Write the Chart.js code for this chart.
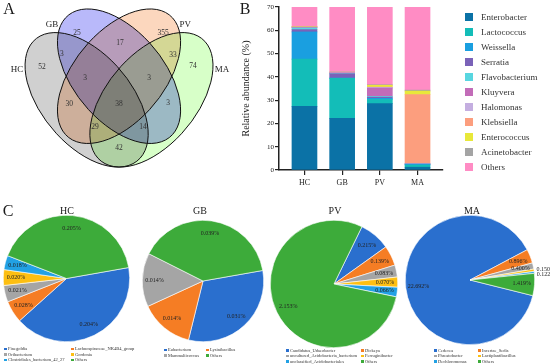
<!DOCTYPE html>
<html>
<head>
<meta charset="utf-8">
<script src="https://cdn.jsdelivr.net/npm/chart.js@4.4.1/dist/chart.umd.min.js"></script>
<style>
  body { margin: 0; background: #fff; }
  #fig { position: relative; width: 550px; height: 364px; overflow: hidden; font-family: "Liberation Serif", "Times New Roman", serif; color: #1a1a1a; }
  #fig canvas { position: absolute; }
  .txt { position: absolute; transform: translate(-50%, -50%); white-space: nowrap; line-height: 1; }
  .bl { position: absolute; left: 465px; font-size: 9px; line-height: 10px; white-space: nowrap; color: #333; }
  .bl i { position: absolute; left: 0; top: 1px; width: 8px; height: 8px; }
  .bl span { position: absolute; left: 16px; top: 0; }
  .pl { position: absolute; font-size: 4.5px; line-height: 5px; white-space: nowrap; color: #333; }
  .pl i { display: inline-block; width: 2.5px; height: 2.5px; margin-right: 1.5px; vertical-align: middle; }
</style>
</head>
<body>
<div id="fig">
  <canvas id="venn" width="240" height="185" style="left:0;top:0"></canvas>
  <canvas id="bars" width="255" height="195" style="left:200px;top:0"></canvas>
  <canvas id="pieHC" width="167" height="167" style="left:-17px;top:195px"></canvas>
  <canvas id="pieGB" width="162" height="162" style="left:122px;top:200px"></canvas>
  <canvas id="piePV" width="168" height="168" style="left:250px;top:200px"></canvas>
  <canvas id="pieMA" width="170" height="170" style="left:385px;top:195px"></canvas>
</div>
<script>
// ---- panel A: shared OTUs ----
const vennSets = ["HC", "GB", "PV", "MA"];
const vennRegions = ["HC", "GB", "PV", "MA", "HC&GB", "HC&PV", "HC&MA", "GB&PV", "GB&MA", "PV&MA",
  "HC&GB&PV", "HC&GB&MA", "HC&PV&MA", "GB&PV&MA", "HC&GB&PV&MA"];
const vennCounts = [52, 25, 355, 74, 3, 30, 42, 17, 3, 33, 3, 14, 29, 3, 38];

// ---- panel B: relative abundance (%) ----
const groups = ["HC", "GB", "PV", "MA"];
const genera = ["Enterobacter", "Lactococcus", "Weissella", "Serratia", "Flavobacterium", "Kluyvera",
  "Halomonas", "Klebsiella", "Enterococcus", "Acinetobacter", "Others"];
const enterobacter = [27.3, 22.2, 28.5, 1.2];
const lactococcus = [20.3, 17.2, 1.8, 0.9];
const weissella = [11.7, 0.1, 0.5, 0.3];
const serratia = [1.0, 1.8, 0.5, 0.1];
const flavobacterium = [0.7, 0.1, 0.3, 0.1];
const kluyvera = [0.2, 0.3, 3.6, 0.1];
const halomonas = [0.1, 0.1, 0.3, 0.1];
const klebsiella = [0.1, 0.1, 0.1, 29.6];
const enterococcus = [0.1, 0.1, 0.8, 1.5];
const acinetobacter = [0.1, 0.1, 0.2, 0.4];
const others = [38.4, 57.9, 63.6, 66.1];

// ---- panel C: top taxa per group (%) ----
const hcTaxa = ["Finegoldia", "Lachnospiraceae_NK4B4_group", "Oribacterium", "Gordonia", "Clostridiales_bacterium_42_27", "Others"];
const hcValues = [0.204, 0.028, 0.021, 0.020, 0.018, 0.205];
const gbTaxa = ["Eubacterium", "Lysinibacillus", "Mammaliicoccus", "Others"];
const gbValues = [0.031, 0.014, 0.014, 0.039];
const pvTaxa = ["Candidatus_Udaeobacter", "Dickeya", "uncultured_Acidobacteria_bacterium", "Ferruginibacter", "unclassified_Acidobacteriales", "Others"];
const pvValues = [0.215, 0.139, 0.083, 0.070, 0.066, 2.153];
const maTaxa = ["Cedecea", "Incertae_Sedis", "Phreatobacter", "Lactiplantibacillus", "Dechloromonas", "Others"];
const maValues = [22.692, 0.896, 0.400, 0.150, 0.122, 1.419];

// styles
const serif = "'Liberation Serif', 'Times New Roman', serif";
const generaColors = ["#0b72a6", "#13bdb8", "#1a9fe0", "#7a62b8", "#58d6e0", "#c26cb8",
  "#c4aee0", "#fc9e7e", "#e8e83a", "#a4a4a4", "#ff8cc4"];
const pieColors = ["#2a6fce", "#f57d24", "#a5a5a5", "#fdbf12", "#22a1e4", "#3dab3a"];

// venn geometry, in chart units (tints are multiplied where they overlap)
const vennShapes = [
  { cx: 0.35, cy: 0.47, rx: 0.35, ry: 0.2, rot: 135, fill: "rgb(208,208,208)" },
  { cx: 0.50, cy: 0.57, rx: 0.35, ry: 0.2, rot: 135, fill: "rgb(185,185,250)" },
  { cx: 0.50, cy: 0.57, rx: 0.35, ry: 0.2, rot: 45, fill: "rgb(252,215,190)" },
  { cx: 0.65, cy: 0.47, rx: 0.35, ry: 0.2, rot: 45, fill: "rgb(215,255,200)" }
];
const vennSetPos = [[0.028, 0.597], [0.19, 0.787], [0.806, 0.787], [0.977, 0.597]];
const vennCountPos = [[0.144, 0.609], [0.306, 0.753], [0.704, 0.753], [0.843, 0.613],
  [0.236, 0.664], [0.269, 0.452], [0.5, 0.266], [0.505, 0.711], [0.727, 0.457], [0.75, 0.66],
  [0.343, 0.563], [0.611, 0.355], [0.389, 0.355], [0.639, 0.563], [0.5, 0.452]];

const fig = document.getElementById("fig");

function addText(text, x, y, size) {
  const d = document.createElement("div");
  d.className = "txt";
  d.textContent = text;
  d.style.left = x + "px";
  d.style.top = y + "px";
  d.style.fontSize = size + "px";
  fig.appendChild(d);
}

// ---------- A ----------
const vennPlugin = {
  id: "venn",
  beforeDatasetsDraw(chart) {
    const { ctx, scales: { x, y } } = chart;
    const sx = x.getPixelForValue(1) - x.getPixelForValue(0);
    const sy = y.getPixelForValue(0) - y.getPixelForValue(1);
    const path = s => {
      ctx.save();
      ctx.translate(x.getPixelForValue(s.cx), y.getPixelForValue(s.cy));
      ctx.scale(sx, -sy);
      ctx.rotate(s.rot * Math.PI / 180);
      ctx.beginPath();
      ctx.ellipse(0, 0, s.rx, s.ry, 0, 0, Math.PI * 2);
      ctx.restore();
    };
    ctx.save();
    ctx.globalCompositeOperation = "multiply";
    vennShapes.forEach(s => { path(s); ctx.fillStyle = s.fill; ctx.fill(); });
    ctx.globalCompositeOperation = "source-over";
    ctx.strokeStyle = "#111";
    ctx.lineWidth = 1;
    vennShapes.forEach(s => { path(s); ctx.stroke(); });

    ctx.textAlign = "center";
    ctx.textBaseline = "middle";
    ctx.fillStyle = "#333";
    ctx.font = "7.5px " + serif;
    vennCounts.forEach((c, i) => {
      ctx.fillText(c, x.getPixelForValue(vennCountPos[i][0]), y.getPixelForValue(vennCountPos[i][1]));
    });
    ctx.fillStyle = "#222";
    ctx.font = "9px " + serif;
    vennSets.forEach((s, i) => {
      ctx.fillText(s, x.getPixelForValue(vennSetPos[i][0]), y.getPixelForValue(vennSetPos[i][1]));
    });
    ctx.restore();
  }
};

new Chart(document.getElementById("venn"), {
  type: "scatter",
  data: { datasets: [{ data: [] }] },
  options: {
    responsive: false,
    animation: false,
    layout: { padding: 0 },
    plugins: { legend: { display: false }, tooltip: { enabled: false } },
    scales: {
      x: { type: "linear", display: false, min: -0.051, max: 1.060 },
      y: { type: "linear", display: false, min: 0.109, max: 0.893 }
    }
  },
  plugins: [vennPlugin]
});

// ---------- B ----------
const abundance = [enterobacter, lactococcus, weissella, serratia, flavobacterium, kluyvera,
  halomonas, klebsiella, enterococcus, acinetobacter, others];

new Chart(document.getElementById("bars"), {
  type: "bar",
  data: {
    datasets: genera.map((g, k) => ({
      label: g,
      data: groups.map((grp, i) => ({ x: i + 1, y: abundance[k][i] })),
      backgroundColor: generaColors[k],
      borderWidth: 0,
      barThickness: 25,
      clip: 0
    }))
  },
  options: {
    responsive: false,
    animation: false,
    layout: { padding: { left: 36, right: 12, top: 7, bottom: 0 } },
    plugins: { legend: { display: false }, tooltip: { enabled: false } },
    scales: {
      x: {
        type: "linear", stacked: true, offset: false,
        min: 0.324, max: 4.676,
        ticks: {
          stepSize: 1, includeBounds: false, padding: 3,
          callback: v => groups[v - 1] ?? "",
          font: { family: serif, size: 8 }, color: "#222"
        },
        grid: { offset: false, drawOnChartArea: false, drawTicks: true, tickLength: 5, color: "#222", lineWidth: 1.2 },
        border: { color: "#222", width: 1.5 },
        afterFit: s => { s.height = 25; }
      },
      y: {
        stacked: true, min: 0, max: 70,
        ticks: { stepSize: 10, padding: 1, font: { family: serif, size: 7 }, color: "#222" },
        title: { display: true, text: "Relative abundance (%)", font: { family: serif, size: 10 }, color: "#222", padding: { top: 4, bottom: 0 } },
        grid: { drawOnChartArea: false, drawTicks: true, tickLength: 4, color: "#222", lineWidth: 1.2 },
        border: { color: "#222", width: 1.5 },
        afterFit: s => { s.width = 43; }
      }
    }
  }
});

genera.forEach((g, i) => {
  const item = document.createElement("div");
  item.className = "bl";
  item.style.top = (12 + i * 15) + "px";
  item.innerHTML = `<i style="background:${generaColors[i]}"></i><span>${g}</span>`;
  fig.appendChild(item);
});

// ---------- C ----------
const pieLabels = {
  id: "pieLabels",
  afterDatasetsDraw(chart) {
    const ctx = chart.ctx;
    const vals = chart.data.datasets[0].data;
    let lastOut = -Infinity;
    ctx.save();
    ctx.font = "6px " + serif;
    ctx.fillStyle = "#222";
    ctx.textBaseline = "middle";
    chart.getDatasetMeta(0).data.forEach((arc, i) => {
      const { x, y, startAngle, endAngle, outerRadius } = arc.getProps(["x", "y", "startAngle", "endAngle", "outerRadius"], true);
      const mid = (startAngle + endAngle) / 2;
      const small = endAngle - startAngle < 0.07;
      const rr = small ? outerRadius * 1.04 : outerRadius * 0.8;
      let ty = y + Math.sin(mid) * rr;
      if (small) {
        ty = Math.max(ty, lastOut + 5);
        lastOut = ty;
      }
      ctx.textAlign = small ? "left" : "center";
      ctx.fillText(vals[i].toFixed(3) + "%", x + Math.cos(mid) * rr, ty);
    });
    ctx.restore();
  }
};

function drawPie(id, values, colors, rotation) {
  return new Chart(document.getElementById(id), {
    type: "pie",
    data: {
      labels: values.map((v, i) => i),
      datasets: [{ data: values, backgroundColor: colors, borderColor: "#fff", borderWidth: 0.6, rotation }]
    },
    options: {
      responsive: false,
      animation: false,
      layout: { padding: 20 },
      plugins: { legend: { display: false }, tooltip: { enabled: false } }
    },
    plugins: [pieLabels]
  });
}

function pieLegend(taxa, colors, col1, col2, top) {
  taxa.forEach((t, i) => {
    const item = document.createElement("div");
    item.className = "pl";
    item.style.left = (i % 2 ? col2 : col1) + "px";
    item.style.top = (top + Math.floor(i / 2) * 5.5) + "px";
    item.innerHTML = `<i style="background:${colors[i]}"></i>${t}`;
    fig.appendChild(item);
  });
}

const gbColors = [pieColors[0], pieColors[1], pieColors[2], pieColors[5]];
drawPie("pieHC", hcValues, pieColors, 80);
drawPie("pieGB", gbValues, gbColors, 80);
drawPie("piePV", pvValues, pieColors, 26);
drawPie("pieMA", maValues, pieColors, 104);

pieLegend(hcTaxa, pieColors, 4, 71, 346);
pieLegend(gbTaxa, gbColors, 164, 206, 347);
pieLegend(pvTaxa, pieColors, 286, 361, 347.5);
pieLegend(maTaxa, pieColors, 434, 478, 347.5);

// titles and panel letters
addText("HC", 67, 210.5, 10);
addText("GB", 200, 210.5, 10);
addText("PV", 335, 211, 10);
addText("MA", 472, 210.5, 10);
addText("A", 9, 9, 16);
addText("B", 245, 9, 16);
addText("C", 8, 211, 16);
</script>
</body>
</html>
